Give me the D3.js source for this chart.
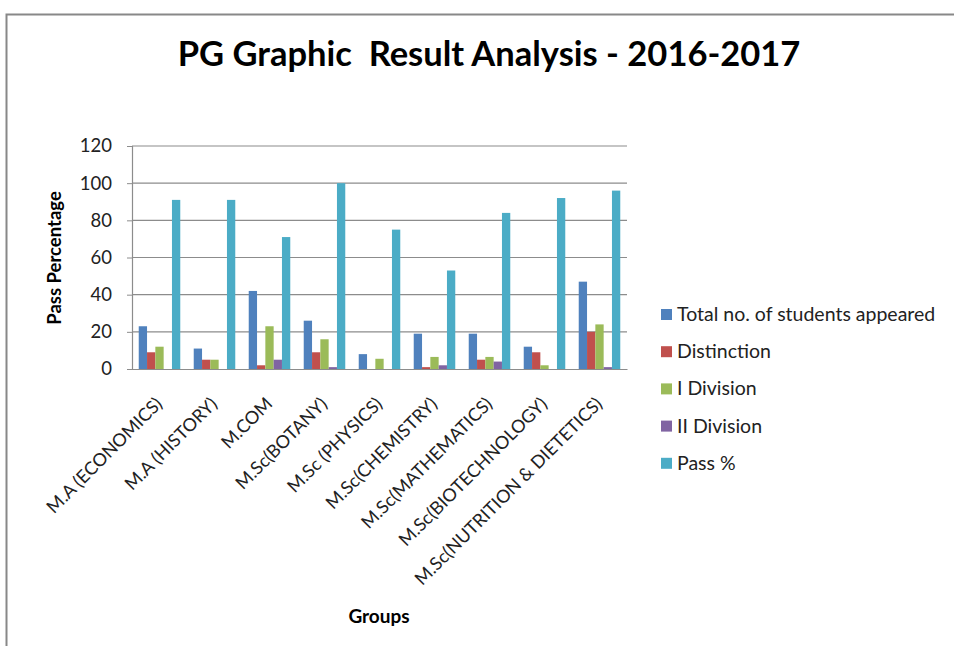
<!DOCTYPE html>
<html>
<head>
<meta charset="utf-8">
<script src="https://cdn.jsdelivr.net/npm/d3@7"></script>
<style>
  body { margin: 0; background: #fff; }
  svg { font-family: Lato, "Open Sans", sans-serif; }
</style>
</head>
<body>
<svg id="chart" width="954" height="646"></svg>
<script>
var groups = ["M.A (ECONOMICS)", "M.A (HISTORY)", "M.COM", "M.Sc(BOTANY)", "M.Sc (PHYSICS)",
              "M.Sc(CHEMISTRY)", "M.Sc(MATHEMATICS)", "M.Sc(BIOTECHNOLOGY)", "M.Sc(NUTRITION & DIETETICS)"];
var seriesNames = ["Total no. of students appeared", "Distinction", "I Division", "II Division", "Pass %"];
var colors = ["#4f81bd", "#c0504d", "#9bbb59", "#8064a2", "#4bacc6"];

var totalAppeared = [23, 11, 42, 26, 8, 19, 19, 12, 47];
var distinction   = [9, 5, 2, 9, 0, 1, 5, 9, 20];
var firstDivision = [12, 5, 23, 16, 5.5, 6.5, 6.5, 2, 24];
var secondDivision = [0, 0, 5, 1, 0, 2, 4, 0, 1];
var passPercent   = [91, 91, 71, 100, 75, 53, 84, 92, 96];

var yTicks = [0, 20, 40, 60, 80, 100, 120];

var allSeries = [totalAppeared, distinction, firstDivision, secondDivision, passPercent];

var svg = d3.select("#chart");

// outer frame
svg.append("rect")
   .attr("x", 6.5).attr("y", 14.5)
   .attr("width", 1000).attr("height", 700)
   .attr("fill", "none").attr("stroke", "#888").attr("stroke-width", 2);

var plot = {left: 132, right: 627, top: 146, bottom: 369};

var xScale = d3.scaleBand()
   .domain(groups)
   .range([plot.left, plot.right])
   .paddingInner(0)
   .paddingOuter(0);

var inner = d3.scaleBand()
   .domain(d3.range(seriesNames.length))
   .range([0, xScale.bandwidth()])
   .paddingOuter(0.81)
   .paddingInner(0);

var yScale = d3.scaleLinear()
   .domain([0, 120])
   .range([plot.bottom, plot.top]);

// gridlines
svg.append("g")
   .selectAll("line")
   .data(yTicks.slice(1))
   .enter()
   .append("line")
   .attr("x1", plot.left).attr("x2", plot.right)
   .attr("y1", function(d){return yScale(d);})
   .attr("y2", function(d){return yScale(d);})
   .attr("stroke", "#8c8c8c").attr("stroke-width", 1.2);

// y axis
var yAxis = d3.axisLeft(yScale).tickValues(yTicks).tickSize(5).tickPadding(15);
var yG = svg.append("g")
   .attr("transform", "translate(" + plot.left + ",0)")
   .call(yAxis);
yG.select(".domain").attr("stroke", "#8c8c8c").attr("stroke-width", 1.2);
yG.selectAll(".tick line").attr("stroke", "#8c8c8c");
yG.selectAll(".tick text").attr("font-size", 18.5).attr("fill", "#222")
   .attr("font-family", "Lato, sans-serif");

// bars
var barG = svg.append("g");
allSeries.forEach(function(values, s)
{
  barG.selectAll(".bar" + s)
     .data(values)
     .enter()
     .append("rect")
     .attr("class", "bar" + s)
     .attr("x", function(d, i){return xScale(groups[i]) + inner(s);})
     .attr("width", inner.bandwidth())
     .attr("y", function(d){return yScale(d);})
     .attr("height", function(d){return yScale(0) - yScale(d);})
     .attr("fill", colors[s]);
});

// x axis
var xAxis = d3.axisBottom(xScale).tickSize(0).tickPadding(0);
var xG = svg.append("g")
   .attr("transform", "translate(0," + plot.bottom + ")")
   .call(xAxis);
xG.select(".domain").attr("stroke", "#8c8c8c").attr("stroke-width", 1.2);
xG.selectAll(".tick text")
   .attr("font-size", 18).attr("fill", "#222")
   .attr("font-family", "Lato, sans-serif")
   .attr("text-anchor", "end")
   .attr("dy", 0)
   .attr("transform", "translate(4,36) rotate(-45)");

// title
svg.append("text")
   .attr("x", 489).attr("y", 66)
   .attr("text-anchor", "middle")
   .attr("font-size", 34.5).attr("font-weight", "bold")
   .attr("fill", "#000")
   .attr("xml:space", "preserve")
   .text("PG Graphic  Result Analysis - 2016-2017");

// axis titles
svg.append("text")
   .attr("transform", "translate(61,258) rotate(-90)")
   .attr("text-anchor", "middle")
   .attr("font-size", 18.5).attr("font-weight", "bold")
   .text("Pass Percentage");

svg.append("text")
   .attr("x", 379).attr("y", 623)
   .attr("text-anchor", "middle")
   .attr("font-size", 19).attr("font-weight", "bold")
   .text("Groups");

// legend
var legend = svg.append("g")
   .selectAll("g")
   .data(seriesNames)
   .enter()
   .append("g")
   .attr("transform", function(d, i){return "translate(661," + (314 + i * 37.2) + ")";});

legend.append("rect")
   .attr("x", 0).attr("y", -5)
   .attr("width", 11).attr("height", 11)
   .attr("fill", function(d, i){return colors[i];});

legend.append("text")
   .attr("x", 16).attr("y", 7)
   .attr("font-size", 19.5).attr("fill", "#222")
   .text(function(d){return d;});
</script>
</body>
</html>
